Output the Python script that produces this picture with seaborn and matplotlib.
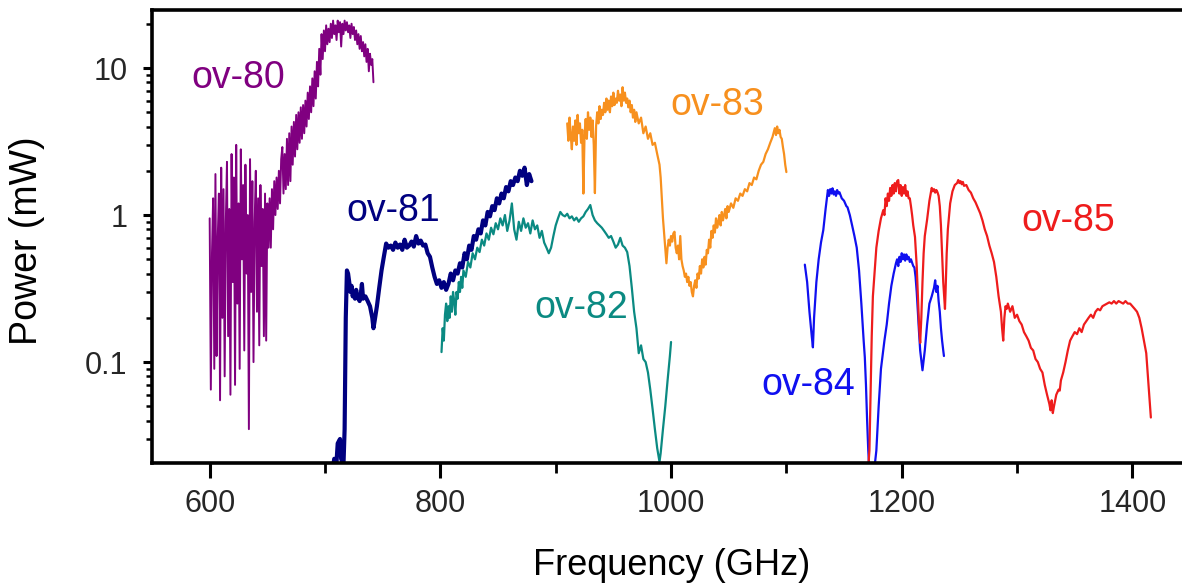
import matplotlib
matplotlib.use('Agg')
import matplotlib.pyplot as plt
import matplotlib.ticker as mticker
import pandas as pd
import seaborn as sns

# (frequency GHz, power mW)
ov80 = [(600, 0.95), (601, 0.065), (602, 0.55), (603, 1.3), (604, 0.09), (605, 1.9), (606, 0.11),
        (607, 0.7), (608, 1.4), (609, 0.055), (610, 2.1), (611, 0.2), (612, 1.5), (613, 0.08),
        (614, 0.9), (615, 2.3), (616, 0.15), (617, 1.1), (618, 0.06), (619, 2.6), (620, 0.35),
        (621, 1.8), (622, 0.07), (623, 3.0), (624, 0.25), (625, 1.2), (626, 0.09), (627, 2.8),
        (628, 0.5), (629, 1.6), (630, 0.12), (631, 2.2), (632, 0.4), (633, 1.0), (634, 0.035),
        (635, 2.4), (636, 0.3), (637, 1.7), (638, 0.1), (639, 0.9), (640, 2.0), (641, 0.22),
        (642, 1.3), (643, 0.13), (644, 1.6), (645, 0.45), (646, 1.1), (647, 0.15), (648, 1.4),
        (649, 0.14), (650, 1.2), (651, 0.6), (652, 1.3), (653, 0.6), (654, 1.5), (655, 0.8),
        (656, 1.7), (657, 1.0), (658, 1.8), (659, 1.1), (660, 2.0), (661, 1.2), (662, 2.4),
        (663, 2.9), (664, 1.4), (665, 2.6), (666, 1.5), (667, 3.3), (668, 1.6), (669, 3.6),
        (670, 1.7), (671, 4.0), (672, 2.2), (673, 4.3), (674, 2.5), (675, 4.8), (676, 2.8),
        (677, 5.0), (678, 3.1), (679, 5.4), (680, 3.3), (681, 5.6), (682, 3.6), (683, 6.0),
        (684, 4.0), (685, 6.8), (686, 4.5), (687, 7.5), (688, 5.0), (689, 8.5), (690, 5.5),
        (691, 9.5), (692, 6.2), (693, 11.0), (694, 7.5), (695, 13.5), (696, 9.0), (697, 17.0),
        (698, 11.5), (699, 18.0), (700, 13.0), (701, 19.5), (702, 14.5), (703, 18.5), (704, 15.0),
        (705, 20.0), (706, 16.0), (707, 21.0), (708, 17.0), (709, 19.5), (710, 15.5), (711, 21.0),
        (712, 17.5), (713, 20.5), (714, 14.0), (715, 20.0), (716, 17.0), (717, 21.0), (718, 18.0),
        (719, 20.5), (720, 17.5), (721, 19.5), (722, 16.0), (723, 20.0), (724, 17.0), (725, 19.0),
        (726, 15.5), (727, 18.0), (728, 14.5), (729, 17.0), (730, 13.5), (731, 16.5), (732, 13.0),
        (733, 15.0), (734, 12.0), (735, 14.5), (736, 11.0), (737, 13.5), (738, 9.5), (739, 12.5),
        (740, 10.5), (741, 11.5), (742, 8.0)]

ov81 = [(705, 0.015), (708, 0.022), (710, 0.021), (711, 0.028), (713, 0.03), (714, 0.022),
        (716, 0.02), (717, 0.035), (718, 0.2), (719, 0.42), (720, 0.40), (721, 0.35), (722, 0.30),
        (723, 0.33), (724, 0.28), (725, 0.30), (726, 0.27), (727, 0.31), (728, 0.28), (730, 0.26),
        (731, 0.29), (732, 0.34), (733, 0.27), (735, 0.28), (737, 0.26), (739, 0.24), (741, 0.2),
        (742, 0.17), (743, 0.19), (745, 0.24), (747, 0.32), (749, 0.42), (751, 0.52), (753, 0.64),
        (755, 0.60), (757, 0.62), (759, 0.58), (761, 0.65), (763, 0.60), (765, 0.63), (767, 0.58),
        (769, 0.68), (771, 0.60), (773, 0.62), (775, 0.66), (777, 0.61), (779, 0.72), (781, 0.64),
        (783, 0.67), (785, 0.62), (787, 0.63), (789, 0.55), (791, 0.52), (793, 0.44), (795, 0.38),
        (797, 0.34), (799, 0.36), (801, 0.32), (803, 0.35), (805, 0.31), (807, 0.34), (809, 0.40),
        (811, 0.36), (813, 0.42), (815, 0.40), (817, 0.47), (819, 0.44), (821, 0.55), (823, 0.50),
        (825, 0.62), (827, 0.58), (829, 0.72), (831, 0.68), (833, 0.80), (835, 0.75), (837, 0.92),
        (839, 0.85), (841, 1.05), (843, 0.98), (845, 1.15), (847, 1.08), (849, 1.3), (851, 1.2),
        (853, 1.4), (855, 1.3), (857, 1.55), (859, 1.45), (861, 1.7), (863, 1.6), (865, 1.8),
        (867, 1.7), (869, 2.0), (871, 1.85), (873, 2.1), (875, 1.6), (877, 1.9), (879, 1.7)]

ov82 = [(801, 0.117), (802, 0.17), (803, 0.14), (804, 0.21), (805, 0.25), (806, 0.19), (807, 0.24),
        (808, 0.2), (809, 0.28), (810, 0.22), (811, 0.3), (812, 0.26), (813, 0.21), (814, 0.3),
        (815, 0.27), (816, 0.35), (817, 0.3), (818, 0.38), (819, 0.32), (820, 0.42), (822, 0.38),
        (824, 0.48), (826, 0.44), (828, 0.55), (830, 0.5), (832, 0.6), (834, 0.56), (836, 0.68),
        (838, 0.62), (840, 0.75), (842, 0.68), (844, 0.82), (846, 0.74), (848, 0.88), (850, 0.8),
        (852, 0.95), (854, 0.85), (856, 1.0), (858, 0.78), (860, 0.92), (862, 1.2), (864, 0.8),
        (866, 0.68), (868, 0.9), (870, 0.78), (872, 0.95), (874, 0.82), (876, 0.88), (878, 0.75),
        (880, 0.92), (882, 0.8), (884, 0.85), (886, 0.7), (888, 0.78), (890, 0.65), (892, 0.6),
        (894, 0.55), (896, 0.6), (898, 0.72), (900, 0.85), (902, 0.95), (904, 1.05), (906, 1.0),
        (908, 0.98), (910, 1.02), (912, 0.95), (914, 0.98), (916, 0.92), (918, 0.96), (920, 0.9),
        (922, 0.95), (924, 0.98), (926, 1.05), (928, 1.1), (930, 1.17), (932, 1.0), (934, 0.92),
        (936, 0.88), (938, 0.85), (940, 0.82), (942, 0.78), (944, 0.74), (946, 0.7), (948, 0.72),
        (950, 0.66), (952, 0.6), (954, 0.63), (956, 0.7), (958, 0.62), (960, 0.6), (962, 0.56),
        (964, 0.45), (966, 0.32), (968, 0.22), (970, 0.17), (971, 0.14), (972, 0.115), (974, 0.13),
        (976, 0.105), (978, 0.1), (980, 0.085), (982, 0.065), (984, 0.048), (986, 0.035),
        (988, 0.026), (990, 0.021), (991, 0.024), (993, 0.035), (995, 0.05), (997, 0.075),
        (999, 0.11), (1000, 0.137)]

ov83 = [(910, 4.2), (911, 3.2), (912, 4.6), (913, 3.5), (914, 2.8), (915, 4.0), (916, 3.2),
        (917, 4.4), (918, 3.0), (919, 4.8), (920, 3.6), (921, 4.2), (922, 3.1), (923, 3.8),
        (924, 1.4), (925, 3.5), (926, 4.5), (927, 3.3), (928, 5.0), (929, 3.8), (930, 4.6),
        (931, 3.4), (932, 4.4), (933, 3.0), (934, 1.41), (935, 4.0), (936, 5.0), (937, 4.2),
        (938, 5.5), (939, 4.5), (940, 5.2), (941, 4.8), (942, 5.8), (943, 5.0), (944, 6.2),
        (945, 5.2), (946, 6.0), (947, 5.0), (948, 6.4), (949, 5.5), (950, 6.8), (951, 5.6),
        (952, 6.2), (953, 5.8), (954, 7.0), (955, 6.0), (956, 6.6), (957, 5.5), (958, 7.4),
        (959, 6.0), (960, 6.8), (961, 5.8), (962, 6.2), (963, 5.4), (964, 6.0), (965, 5.0),
        (966, 5.6), (967, 4.6), (968, 5.2), (969, 4.3), (970, 5.0), (972, 4.2), (974, 4.6),
        (976, 3.6), (978, 4.0), (980, 3.3), (982, 3.6), (984, 3.0), (986, 3.1), (988, 2.6),
        (990, 2.2), (991, 1.8), (992, 1.3), (993, 0.95), (994, 0.75), (995, 0.6), (996, 0.47),
        (997, 0.6), (998, 0.68), (999, 0.62), (1000, 0.72), (1001, 0.66), (1002, 0.75), (1003, 0.77),
        (1004, 0.6), (1005, 0.55), (1006, 0.62), (1007, 0.5), (1008, 0.72), (1009, 0.5), (1010, 0.45),
        (1011, 0.42), (1012, 0.38), (1013, 0.4), (1014, 0.35), (1015, 0.38), (1016, 0.33),
        (1017, 0.35), (1018, 0.3), (1019, 0.28), (1020, 0.33), (1021, 0.36), (1022, 0.32),
        (1023, 0.4), (1024, 0.37), (1025, 0.45), (1026, 0.4), (1027, 0.5), (1028, 0.44), (1029, 0.52),
        (1030, 0.46), (1031, 0.58), (1032, 0.55), (1033, 0.68), (1034, 0.6), (1035, 0.78),
        (1036, 0.7), (1037, 0.85), (1038, 0.76), (1039, 0.95), (1040, 0.82), (1041, 0.9),
        (1042, 1.0), (1043, 0.85), (1044, 1.05), (1045, 0.92), (1046, 1.0), (1047, 1.1),
        (1048, 0.95), (1049, 1.15), (1050, 1.05), (1052, 1.2), (1054, 1.12), (1056, 1.3),
        (1058, 1.25), (1060, 1.4), (1062, 1.35), (1064, 1.5), (1066, 1.45), (1068, 1.65),
        (1070, 1.6), (1072, 1.8), (1074, 1.75), (1076, 2.0), (1078, 2.2), (1080, 2.3), (1082, 2.6),
        (1084, 2.8), (1086, 3.1), (1088, 3.4), (1090, 3.9), (1091, 3.5), (1092, 4.0), (1093, 3.6),
        (1094, 3.8), (1095, 3.4), (1096, 3.3), (1097, 2.9), (1098, 2.6), (1099, 2.2), (1100, 1.96)]

ov84 = [(1116, 0.46), (1118, 0.35), (1120, 0.22), (1122, 0.15), (1123, 0.126), (1124, 0.2),
        (1126, 0.35), (1128, 0.5), (1130, 0.65), (1132, 0.79), (1134, 1.1), (1136, 1.48),
        (1137, 1.35), (1138, 1.5), (1139, 1.4), (1140, 1.52), (1141, 1.38), (1142, 1.45),
        (1143, 1.35), (1144, 1.48), (1145, 1.4), (1146, 1.43), (1148, 1.3), (1150, 1.25),
        (1152, 1.15), (1153, 1.13), (1155, 1.0), (1157, 0.85), (1159, 0.72), (1161, 0.6),
        (1163, 0.42), (1165, 0.25), (1167, 0.14), (1168, 0.108), (1169, 0.07), (1170, 0.04),
        (1171, 0.025), (1172, 0.018), (1176, 0.018), (1178, 0.025), (1180, 0.05), (1182, 0.09),
        (1185, 0.14), (1187, 0.18), (1189, 0.25), (1191, 0.33), (1193, 0.4), (1195, 0.47),
        (1196, 0.5), (1197, 0.45), (1198, 0.52), (1199, 0.48), (1200, 0.55), (1201, 0.5),
        (1202, 0.54), (1203, 0.49), (1204, 0.54), (1205, 0.5), (1206, 0.52), (1207, 0.48),
        (1208, 0.5), (1210, 0.45), (1211, 0.44), (1212, 0.38), (1213, 0.3), (1214, 0.22),
        (1215, 0.16), (1216, 0.12), (1218, 0.088), (1220, 0.12), (1222, 0.18), (1224, 0.25),
        (1226, 0.28), (1228, 0.32), (1229, 0.36), (1230, 0.3), (1231, 0.33), (1232, 0.26),
        (1233, 0.22), (1234, 0.17), (1235, 0.14), (1236, 0.12), (1236.6, 0.11)]

ov85 = [(1170, 0.015), (1172, 0.025), (1173, 0.06), (1174, 0.15), (1175, 0.28), (1176.8, 0.44),
        (1178, 0.6), (1180, 0.78), (1182, 0.95), (1184, 1.08), (1185, 1.0), (1186, 1.3),
        (1187, 1.15), (1188, 1.4), (1189, 1.25), (1190, 1.53), (1191, 1.35), (1192, 1.6),
        (1193, 1.4), (1194, 1.65), (1195, 1.45), (1196, 1.7), (1197, 1.73), (1198, 1.4),
        (1199, 1.6), (1200, 1.35), (1201, 1.55), (1202, 1.4), (1203, 1.6), (1204, 1.35),
        (1205, 1.45), (1206, 1.3), (1207, 1.3), (1208, 1.15), (1209, 1.0), (1210, 0.85),
        (1211.5, 0.71), (1213, 0.45), (1214, 0.28), (1215, 0.18), (1216, 0.135), (1217, 0.2),
        (1218, 0.35), (1219, 0.55), (1220, 0.72), (1222, 0.93), (1224, 1.25), (1226, 1.53),
        (1227, 1.45), (1228, 1.5), (1229, 1.42), (1230, 1.48), (1231, 1.43), (1232, 1.35),
        (1233, 1.15), (1234, 0.85), (1235, 0.55), (1236, 0.35), (1237.5, 0.23), (1238, 0.3),
        (1239, 0.55), (1240, 0.8), (1242, 1.2), (1244, 1.45), (1246, 1.6), (1248, 1.65),
        (1249, 1.73), (1250, 1.65), (1251, 1.7), (1252, 1.62), (1253, 1.68), (1254, 1.58),
        (1256, 1.6), (1258, 1.48), (1260, 1.42), (1262, 1.3), (1264, 1.22), (1266, 1.12),
        (1268, 1.03), (1270, 0.92), (1272, 0.8), (1274, 0.72), (1276, 0.62), (1278, 0.55),
        (1280, 0.48), (1282, 0.38), (1284, 0.28), (1286, 0.22), (1287, 0.17), (1288, 0.14),
        (1289, 0.2), (1290, 0.24), (1291, 0.23), (1292, 0.25), (1294, 0.22), (1296, 0.24),
        (1298, 0.2), (1300, 0.21), (1302, 0.19), (1304, 0.18), (1306, 0.16), (1308, 0.15),
        (1310, 0.14), (1312, 0.125), (1314, 0.12), (1316, 0.105), (1318, 0.1), (1320, 0.09),
        (1322, 0.085), (1324, 0.07), (1326, 0.06), (1328, 0.052), (1329, 0.047), (1330, 0.055),
        (1331, 0.045), (1332, 0.05), (1334, 0.06), (1336, 0.065), (1337, 0.064), (1338, 0.075),
        (1340, 0.085), (1342, 0.1), (1344, 0.12), (1346, 0.14), (1348, 0.15), (1350, 0.16),
        (1352, 0.155), (1354, 0.17), (1356, 0.16), (1358, 0.18), (1360, 0.19), (1362, 0.2),
        (1364, 0.21), (1366, 0.2), (1368, 0.22), (1370, 0.23), (1372, 0.225), (1374, 0.24),
        (1376, 0.245), (1378, 0.25), (1380, 0.255), (1382, 0.25), (1384, 0.26), (1386, 0.25),
        (1388, 0.26), (1390, 0.255), (1392, 0.25), (1394, 0.26), (1396, 0.25), (1398, 0.25),
        (1400, 0.24), (1402, 0.23), (1404, 0.22), (1406, 0.2), (1408, 0.17), (1410, 0.14),
        (1412, 0.115), (1414, 0.07), (1416, 0.042)]

names = ['ov-80', 'ov-81', 'ov-82', 'ov-83', 'ov-84', 'ov-85']
colors = ['#800080', '#000080', '#0B8A82', '#F7901E', '#1010F0', '#EE1C1C']
widths = [1.4, 3.0, 1.6, 1.6, 1.6, 1.6]
# label anchor (freq, power) for each curve name
label_pos = [(625, 8.6), (759, 1.06), (922, 0.235), (1040, 5.6), (1119, 0.07), (1344, 0.91)]


def plot_spectra():
    sns.set_theme(style='white')
    plt.rcParams['font.family'] = ['Liberation Sans', 'DejaVu Sans']

    fig = plt.figure(figsize=(11.82, 5.84), dpi=100)
    ax = fig.add_axes([152 / 1182, 1 - 463 / 584, 1030 / 1182, 453 / 584])

    curves = [ov80, ov81, ov82, ov83, ov84, ov85]
    for name, pts, col, lw in zip(names, curves, colors, widths):
        df = pd.DataFrame(pts, columns=['freq', 'power'])
        sns.lineplot(data=df, x='freq', y='power', ax=ax, color=col, linewidth=lw,
                     sort=False, estimator=None)

    for name, (fx, fy), col in zip(names, label_pos, colors):
        ax.text(fx, fy, name, color=col, fontsize=27, ha='center', va='center')

    ax.set_yscale('log')
    ax.set_xlim(550, 1443)
    ax.set_ylim(0.0206, 24.8)

    ax.xaxis.set_major_locator(mticker.MultipleLocator(200))
    ax.xaxis.set_minor_locator(mticker.MultipleLocator(100))
    ax.yaxis.set_major_locator(mticker.LogLocator(base=10))
    ax.yaxis.set_minor_locator(mticker.LogLocator(base=10, subs=range(2, 10)))
    ax.yaxis.set_major_formatter(mticker.FuncFormatter(lambda v, p: f'{v:g}'))
    ax.yaxis.set_minor_formatter(mticker.NullFormatter())

    ax.tick_params(axis='x', which='major', direction='out', length=11, width=2.2,
                   labelsize=22, pad=8, color='black', bottom=True)
    ax.tick_params(axis='x', which='minor', direction='out', length=7, width=2.0,
                   color='black', bottom=True)
    ax.tick_params(axis='y', which='major', direction='out', length=6.5, width=2.2,
                   labelsize=22, pad=11, color='black', left=True)
    ax.tick_params(axis='y', which='minor', direction='out', length=4, width=1.8,
                   color='black', left=True)

    for side in ['left', 'bottom', 'top']:
        ax.spines[side].set_linewidth(2.6)
        ax.spines[side].set_color('black')
    ax.spines['right'].set_visible(False)

    ax.set_xlabel('Frequency (GHz)', fontsize=26, color='black')
    ax.set_ylabel('Power (mW)', fontsize=27, color='black')
    ax.xaxis.set_label_coords(0.5045, -0.1876)
    ax.yaxis.set_label_coords(-0.104, 0.49)

    fig.savefig('out.png', dpi=100)


if __name__ == "__main__":
    plot_spectra()
